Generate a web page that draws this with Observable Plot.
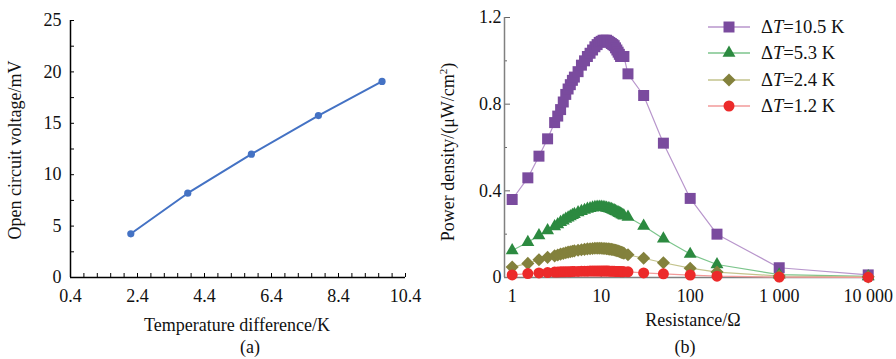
<!DOCTYPE html>
<html><head><meta charset="utf-8">
<script src="https://cdn.jsdelivr.net/npm/d3@7"></script>
<script src="https://cdn.jsdelivr.net/npm/@observablehq/plot@0.6"></script>
<style>
body{margin:0;background:#fff;}
#root{position:relative;width:896px;height:359px;font-family:"Liberation Serif","Times New Roman",serif;color:#111;overflow:hidden;}
.abs{position:absolute;white-space:nowrap;font-size:18px;line-height:20px;}
.leg{font-size:18.6px;}
.plot{position:absolute;top:0;}
</style></head><body><div id="root"></div>
<script>
// ---- Panel (a) data ----
const tempDiff = [2.2, 3.9, 5.8, 7.8, 9.7];
const openVoltage = [4.25, 8.2, 12.0, 15.75, 19.07];
const xTicksA = [0.4, 2.4, 4.4, 6.4, 8.4, 10.4];
const xTickLabelsA = ["0.4", "2.4", "4.4", "6.4", "8.4", "10.4"];
const xMinorA = [0.8, 1.2, 1.6, 2.0, 2.8, 3.2, 3.6, 4.0, 4.8, 5.2, 5.6, 6.0, 6.8, 7.2, 7.6, 8.0, 8.8, 9.2, 9.6, 10.0];
const yTicksA = [0, 5, 10, 15, 20, 25];
const yMinorA = [2.5, 7.5, 12.5, 17.5, 22.5];

// ---- Panel (b) data ----
const resistance = [1, 1.5, 2, 2.5, 3, 3.25, 3.5, 3.75, 4, 4.25, 4.5, 4.75, 5, 5.5, 6, 6.5, 7, 7.5, 8, 8.5, 9, 9.5, 10, 10.5, 11, 11.5, 12, 12.5, 13, 13.5, 14, 14.5, 15, 15.5, 16, 16.5, 17, 17.5, 18, 20, 30, 50, 100, 200, 1000, 10000];
const power105 = [0.36, 0.46, 0.56, 0.64, 0.715, 0.745, 0.775, 0.81, 0.845, 0.87, 0.89, 0.91, 0.925, 0.95, 0.98, 1.0, 1.02, 1.035, 1.05, 1.065, 1.075, 1.085, 1.09, 1.095, 1.095, 1.095, 1.09, 1.085, 1.08, 1.075, 1.07, 1.06, 1.05, 1.04, 1.03, 1.02, 1.02, 1.02, 1.02, 0.94, 0.84, 0.62, 0.365, 0.2, 0.045, 0.012];
const power53 = [0.125, 0.163, 0.194, 0.217, 0.235, 0.245, 0.255, 0.262, 0.27, 0.276, 0.282, 0.287, 0.292, 0.3, 0.306, 0.311, 0.316, 0.319, 0.322, 0.324, 0.325, 0.325, 0.325, 0.324, 0.323, 0.321, 0.319, 0.317, 0.315, 0.312, 0.309, 0.306, 0.303, 0.3, 0.297, 0.294, 0.291, 0.288, 0.285, 0.279, 0.238, 0.179, 0.108, 0.06, 0.013, 0.005];
const power24 = [0.048, 0.065, 0.082, 0.093, 0.1, 0.104, 0.108, 0.111, 0.114, 0.117, 0.119, 0.121, 0.123, 0.126, 0.128, 0.13, 0.132, 0.133, 0.134, 0.135, 0.135, 0.135, 0.135, 0.134, 0.134, 0.133, 0.132, 0.131, 0.13, 0.129, 0.127, 0.126, 0.124, 0.122, 0.12, 0.118, 0.116, 0.114, 0.112, 0.105, 0.089, 0.068, 0.043, 0.025, 0.007, 0.003];
const power12 = [0.012, 0.018, 0.021, 0.023, 0.025, 0.025, 0.026, 0.026, 0.027, 0.027, 0.027, 0.028, 0.028, 0.028, 0.029, 0.029, 0.029, 0.03, 0.03, 0.03, 0.03, 0.03, 0.03, 0.03, 0.03, 0.03, 0.03, 0.029, 0.029, 0.029, 0.029, 0.028, 0.028, 0.028, 0.028, 0.027, 0.027, 0.027, 0.027, 0.026, 0.021, 0.017, 0.011, 0.006, 0.002, 0.001];
const seriesDeltaT = ["10.5", "5.3", "2.4", "1.2"];
const seriesSymbols = ["square", "triangle", "diamond2", "circle"];
const seriesColors = ["#7A4B9E", "#2C8A40", "#83813C", "#EC2A2A"];
const seriesLineColors = ["#B896CC", "#7CC58C", "#C3C38C", "#F29A9A"];
const seriesR = [6.2, 4.8, 5.9, 5.5];
const xTicksB = [1, 10, 100, 1000, 10000];
const xTickLabelsB = ["1", "10", "100", "1 000", "10 000"];
const yTicksB = [0, 0.4, 0.8, 1.2];
const yTickLabelsB = ["0", "0.4", "0.8", "1.2"];
const yMinorB = [0.2, 0.6, 1.0];

const root = document.getElementById("root");
const fontStyle = {fontFamily: '"Liberation Serif", "Times New Roman", serif', fontSize: "18px", color: "#111", background: "transparent", overflow: "visible"};

// ---- Panel (a) ----
const dataA = tempDiff.map((t, i) => ({t, v: openVoltage[i]}));
const plotA = Plot.plot({
  width: 430, height: 335,
  marginLeft: 70, marginRight: 25, marginTop: 20, marginBottom: 58,
  style: fontStyle,
  x: {domain: [0.4, 10.4]},
  y: {domain: [0, 25]},
  marks: [
    Plot.axisX(xMinorA, {tickSize: -4, tickFormat: () => "", label: null, stroke: "#000"}),
    Plot.axisX(xTicksA, {tickSize: -4, tickPadding: 16, tickFormat: d => xTickLabelsA[xTicksA.indexOf(d)], label: null, stroke: "#000"}),
    Plot.axisY(yMinorA, {tickSize: -4, tickFormat: () => "", label: null, stroke: "#000"}),
    Plot.axisY(yTicksA, {tickSize: -4, tickPadding: 13, tickFormat: d => String(d), label: null, stroke: "#000"}),
    Plot.ruleX([0.4], {stroke: "#000", strokeWidth: 1.5}),
    Plot.ruleY([0], {stroke: "#000", strokeWidth: 1.5}),
    Plot.line(dataA, {x: "t", y: "v", stroke: "#4472C4", strokeWidth: 2}),
    Plot.dot(dataA, {x: "t", y: "v", r: 3.6, fill: "#4472C4"})
  ]
});
plotA.classList.add("plot");
plotA.style.left = "0px";
root.appendChild(plotA);

// ---- Panel (b) ----
const seriesValues = [power105, power53, power24, power12];
const dataB = [];
seriesValues.forEach((vals, s) => vals.forEach((p, i) => dataB.push({s, r: resistance[i], p})));
const marksB = [
  Plot.axisX(xTicksB, {tickSize: -5, tickPadding: 17, tickFormat: d => xTickLabelsB[xTicksB.indexOf(d)], label: null, stroke: "#666"}),
  Plot.axisY(yMinorB, {tickSize: -3, tickFormat: () => "", label: null, stroke: "#666"}),
  Plot.axisY(yTicksB, {tickSize: -6, tickPadding: 9, tickFormat: d => yTickLabelsB[yTicksB.indexOf(d)], label: null, stroke: "#666"}),
  Plot.ruleX([0.82], {stroke: "#808080", strokeWidth: 1.5}),
  Plot.ruleY([0], {stroke: "#808080", strokeWidth: 1.5})
];
seriesValues.forEach((vals, s) => {
  const d = dataB.filter(e => e.s === s);
  marksB.push(Plot.line(d, {x: "r", y: "p", stroke: seriesLineColors[s], strokeWidth: 1.2}));
});
seriesValues.forEach((vals, s) => {
  const d = dataB.filter(e => e.s === s);
  marksB.push(Plot.dot(d, {x: "r", y: "p", symbol: () => seriesSymbols[s], r: seriesR[s], fill: seriesColors[s], stroke: "none"}));
});
const plotB = Plot.plot({
  width: 466, height: 335,
  marginLeft: 74, marginRight: 24, marginTop: 17, marginBottom: 58,
  style: fontStyle,
  x: {type: "log", domain: [0.82, 11170]},
  y: {domain: [0, 1.2]},
  symbol: {type: "identity"},
  marks: marksB
});
plotB.classList.add("plot");
plotB.style.left = "430px";
root.appendChild(plotB);

// ---- Legend (b) ----
const ns = "http://www.w3.org/2000/svg";
const symbolTypes = {square: d3.symbolSquare, triangle: d3.symbolTriangle, diamond2: d3.symbolDiamond2, circle: d3.symbolCircle};
seriesDeltaT.forEach((dt, s) => {
  const cy = 27 + s * 26.4;
  const svg = document.createElementNS(ns, "svg");
  svg.setAttribute("width", 46); svg.setAttribute("height", 16);
  svg.style.position = "absolute"; svg.style.left = "706px"; svg.style.top = (cy - 8) + "px";
  const line = document.createElementNS(ns, "line");
  line.setAttribute("x1", 2); line.setAttribute("x2", 44); line.setAttribute("y1", 8); line.setAttribute("y2", 8);
  line.setAttribute("stroke", seriesLineColors[s]); line.setAttribute("stroke-width", 1.4);
  svg.appendChild(line);
  const path = document.createElementNS(ns, "path");
  path.setAttribute("d", d3.symbol(symbolTypes[seriesSymbols[s]], Math.PI * seriesR[s] * seriesR[s])());
  path.setAttribute("transform", "translate(23,8)");
  path.setAttribute("fill", seriesColors[s]);
  svg.appendChild(path);
  root.appendChild(svg);
  const t = document.createElement("div");
  t.className = "abs leg";
  t.style.left = "761px"; t.style.top = (cy - 10) + "px";
  t.innerHTML = "Δ<i>T</i>=" + dt + " K";
  root.appendChild(t);
});

// ---- Titles and captions ----
function addText(html, cx, cy, rotate) {
  const d = document.createElement("div");
  d.className = "abs";
  d.innerHTML = html;
  d.style.left = cx + "px"; d.style.top = cy + "px";
  d.style.transform = "translate(-50%,-50%)" + (rotate ? " rotate(-90deg)" : "");
  root.appendChild(d);
}
addText("Open circuit voltage/mV", 15, 150, true);
addText("Temperature difference/K", 237, 325, false);
addText("(a)", 250, 347, false);
addText("Power density/(μW/cm<sup style='font-size:11px;line-height:0'>2</sup>)", 448, 152, true);
addText("Resistance/Ω", 693, 320, false);
addText("(b)", 685, 347, false);
</script>
</body></html>
